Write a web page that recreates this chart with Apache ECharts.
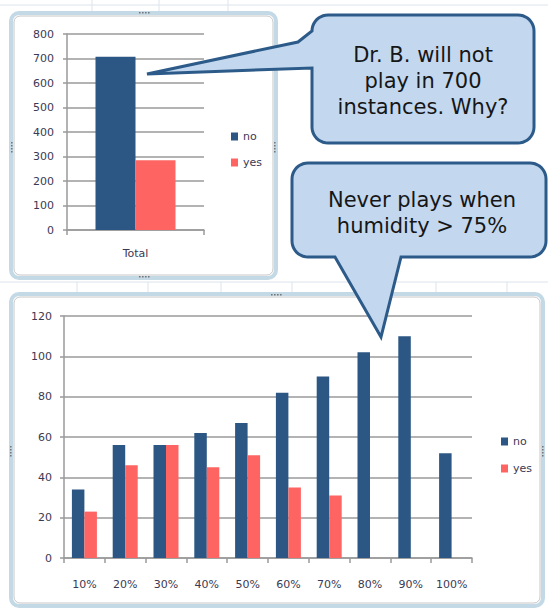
<!DOCTYPE html>
<html>
<head>
<meta charset="utf-8">
<script src="https://cdn.jsdelivr.net/npm/echarts@6/dist/echarts.min.js"></script>
<style>
html,body{margin:0;padding:0;background:#fff;}
#chart{width:548px;height:609px;}
</style>
</head>
<body>
<div id="chart"></div>
<script>
// ---- data ----
const totalCategories = ['Total'];
const totalNo = [707];
const totalYes = [285];
const humidityCategories = ['10%','20%','30%','40%','50%','60%','70%','80%','90%','100%'];
const humidityNo = [34, 56, 56, 62, 67, 82, 90, 102, 110, 52];
const humidityYes = [23, 46, 56, 45, 51, 35, 31, null, null, null];
const seriesNames = ['no', 'yes'];
const topAxisMax = 800, topAxisStep = 100;
const bottomAxisMax = 120, bottomAxisStep = 20;
const callout1Lines = ['Dr. B. will not', 'play in 700', 'instances. Why?'];
const callout2Lines = ['Never plays when', 'humidity > 75%'];

// ---- styles ----
const FONT = '"DejaVu Sans", Verdana, sans-serif';
const LABEL = '#3b3953';
const GRID = '#9a9a9a';
const NO_COLOR = '#2c5784';
const YES_COLOR = '#fd6462';
const CALL_FILL = '#c3d8ef';
const CALL_STROKE = '#2d5b89';

const chart = echarts.init(document.getElementById('chart'), null, {renderer: 'svg'});

function valueAxis(gridIndex, max, step, margin) {
  return {
    type: 'value', gridIndex, min: 0, max, interval: step, z: 4,
    axisLine: {show: true, lineStyle: {color: GRID, width: 1.5}},
    axisTick: {show: true, length: 4, lineStyle: {color: GRID, width: 1.5}},
    splitLine: {show: true, lineStyle: {color: GRID, width: 1.5}},
    axisLabel: {color: LABEL, fontFamily: FONT, fontSize: 11, margin}
  };
}
function catAxis(gridIndex, data, margin) {
  return {
    type: 'category', gridIndex, data, z: 4,
    axisLine: {show: true, lineStyle: {color: GRID, width: 1.5}},
    axisTick: {show: true, length: 5, alignWithLabel: false, lineStyle: {color: GRID, width: 1.5}},
    axisLabel: {color: LABEL, fontFamily: FONT, fontSize: 11, margin, interval: 0}
  };
}

// decorative background (spreadsheet cells, frames, handles)
const bg = [];
function line(x1,y1,x2,y2,color,w,z){ bg.push({type:'line', shape:{x1,y1,x2,y2}, style:{stroke:color, lineWidth:w||1}, z: z||0, silent:true}); }
const cell = '#dce4ec';
line(0,5,548,5,cell); line(0,282,548,282,cell);
[92,159,228].forEach(x=>line(x,0,x,12,cell));
[77,148,221,292,436,507].forEach(x=>line(x,282,x,294,cell));
// frames
function frame(x,y,w,h){
  bg.push({type:'rect', shape:{x,y,width:w,height:h,r:8}, style:{fill:'#fff', stroke:'#c3d9e5', lineWidth:4}, z:1, silent:true});
  bg.push({type:'rect', shape:{x:x+3,y:y+3,width:w-6,height:h-6,r:6}, style:{fill:'#fff', stroke:'#c6c6c6', lineWidth:1}, z:1, silent:true});
}
frame(11,13,265,265);
frame(11,294,532,312);
function dotsH(cx,cy){ for(let i=0;i<4;i++) bg.push({type:'rect', shape:{x:cx-6+i*3,y:cy-1,width:1.6,height:1.6}, style:{fill:'#777'}, z:2, silent:true}); }
function dotsV(cx,cy){ for(let i=0;i<4;i++) bg.push({type:'rect', shape:{x:cx-1,y:cy-6+i*3,width:1.6,height:1.6}, style:{fill:'#777'}, z:2, silent:true}); }
dotsH(145,13); dotsH(145,277); dotsV(12,148); dotsV(275,148);
dotsH(277,295); dotsV(11,452); dotsV(543,452);

// callouts: one closed outline each (rounded box + tail)
function arc(cx, cy, r, a0, a1) {
  const pts = [];
  for (let i = 0; i <= 10; i++) {
    const a = (a0 + (a1 - a0) * i / 10) * Math.PI / 180;
    pts.push([cx + r * Math.cos(a), cy + r * Math.sin(a)]);
  }
  return pts;
}
const R = 16;
const c1 = [].concat(
  arc(312 + R, 15 + R, R, 180, 270),
  arc(534 - R, 15 + R, R, 270, 360),
  arc(534 - R, 143 - R, R, 0, 90),
  arc(312 + R, 143 - R, R, 90, 180),
  [[312, 68], [147, 74], [298, 42]]
);
const c2 = [].concat(
  arc(292 + R, 163 + R, R, 180, 270),
  arc(546 - R, 163 + R, R, 270, 360),
  arc(546 - R, 257 - R, R, 0, 90),
  [[401, 257], [381, 337], [335, 257]],
  arc(292 + R, 257 - R, R, 90, 180)
);
const calls = [];
[c1, c2].forEach(pts => calls.push({type: 'polygon', shape: {points: pts},
  style: {fill: CALL_FILL, stroke: CALL_STROKE, lineWidth: 3, lineJoin: 'miter'}, z: 100, silent: true}));
function calloutText(lines, tx, ty) {
  calls.push({type: 'text', x: tx, y: ty, style: {text: lines.join('\n'), font: '21px ' + FONT, fill: '#161616',
    align: 'center', verticalAlign: 'middle', lineHeight: 26}, z: 103, silent: true});
}
calloutText(callout1Lines, 423, 81);
calloutText(callout2Lines, 422, 213);

const option = {
  animation: false,
  backgroundColor: '#fff',
  color: [NO_COLOR, YES_COLOR],
  grid: [
    {left: 67, top: 34, width: 137, height: 196, containLabel: false},
    {left: 64, top: 316, width: 408, height: 242, containLabel: false}
  ],
  xAxis: [catAxis(0, totalCategories, 18), catAxis(1, humidityCategories, 21)],
  yAxis: [valueAxis(0, topAxisMax, topAxisStep, 13), valueAxis(1, bottomAxisMax, bottomAxisStep, 12)],
  legend: [
    {data: seriesNames, orient: 'vertical', left: 226, top: 126, itemWidth: 7, itemHeight: 8, itemGap: 15,
     icon: 'rect', textStyle: {color: LABEL, fontFamily: FONT, fontSize: 11}, z: 6},
    {data: seriesNames, orient: 'vertical', left: 496, top: 431, itemWidth: 7, itemHeight: 8, itemGap: 16,
     icon: 'rect', textStyle: {color: LABEL, fontFamily: FONT, fontSize: 11}, z: 6}
  ],
  series: [
    {name: 'no', type: 'bar', xAxisIndex: 0, yAxisIndex: 0, data: totalNo, barWidth: 40, barGap: '0%', z: 6},
    {name: 'yes', type: 'bar', xAxisIndex: 0, yAxisIndex: 0, data: totalYes, barWidth: 40, barGap: '0%', z: 6},
    {name: 'no', type: 'bar', xAxisIndex: 1, yAxisIndex: 1, data: humidityNo, barWidth: 12.5, barGap: '0%', z: 6},
    {name: 'yes', type: 'bar', xAxisIndex: 1, yAxisIndex: 1, data: humidityYes, barWidth: 12.5, barGap: '0%', z: 6}
  ],
  graphic: {elements: bg.concat(calls)}
};
chart.setOption(option);
</script>
</body>
</html>
